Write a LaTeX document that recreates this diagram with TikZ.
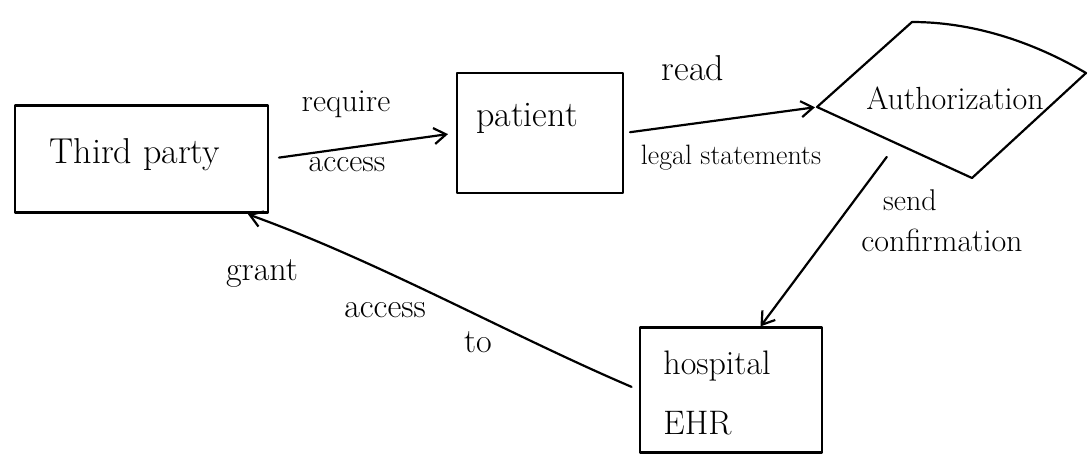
\documentclass[tikz,border=0pt]{standalone}
\usepackage{fontspec}
\setmainfont{Latin Modern Roman}
\usetikzlibrary{arrows.meta,calc}
\begin{document}
\begin{tikzpicture}[x=1pt,y=-1pt,
  ink/.style={line width=2.2pt,line cap=round,line join=round},
  boxnode/.style={ink,draw,rectangle,inner sep=0pt},
  lbl/.style={font=\fontsize{30}{34}\selectfont,inner sep=0pt},
  conn/.style={ink,-{Straight Barb[length=12pt,width=16pt,line width=2.2pt]}}]
\useasboundingbox (0,0) rectangle (1091,465);
% boxes
\node[boxnode,minimum width=253pt,minimum height=107pt] (tp) at (141.5,159) {};
\node[lbl,font=\fontsize{36}{40}\selectfont] (tpt) at (135,155) {Third party};
\node[boxnode,minimum width=166pt,minimum height=120pt] (pat) at (540,133) {};
\node[lbl,font=\fontsize{36}{40}\selectfont] (patt) at (527,118) {patient};
\node[boxnode,minimum width=182pt,minimum height=125pt] (hos) at (731,390) {};
\node[lbl,align=left,font=\fontsize{34}{60}\selectfont] (host) at (717,393) {hospital\\EHR};
% authorization diamond
\coordinate (aL) at (817,107);
\coordinate (aT) at (912,22);
\coordinate (aR) at (1086,73);
\coordinate (aB) at (972,178);
\draw[ink] (aL) -- (aT) .. controls (970,22) and (1030,40) .. (aR) -- (aB) -- cycle;
\node[lbl,font=\fontsize{32}{36}\selectfont] (auth) at (955,98) {Authorization};
% connectors
\draw[conn,shorten <=10pt,shorten >=8pt] (tp.east) -- (pat.west);
\node[lbl,font=\fontsize{32}{36}\selectfont] (l1) at (346,104) {require};
\node[lbl,font=\fontsize{32}{36}\selectfont] (l2) at (347,165) {access};
\draw[conn,shorten <=6pt,shorten >=2pt] (pat.east) -- (aL);
\node[lbl,font=\fontsize{36}{40}\selectfont] (l3) at (693,68) {read};
\node[lbl,font=\fontsize{28}{30}\selectfont] (l4) at (731,158) {legal statements};
\coordinate (sc) at ($(aL)!0.45!(aB)+(0,18)$);
\coordinate (hn) at ($(hos.north west)!0.66!(hos.north east)$);
\draw[conn] (sc) -- (hn);
\node[lbl] (l5) at (910,200) {send};
\node[lbl,font=\fontsize{32}{36}\selectfont] (l6) at (942,240) {confirmation};
\coordinate (tb) at ($(tp.south west)!0.91!(tp.south east)$);
\draw[conn,shorten <=8pt,shorten >=2pt] (hos.west) .. controls (510,335) and (380,262) .. (tb);
\node[lbl,font=\fontsize{34}{38}\selectfont] (l7a) at (262,274) {grant};
\node[lbl,font=\fontsize{34}{38}\selectfont] (l7b) at (385,310) {access};
\node[lbl,font=\fontsize{34}{38}\selectfont] (l7c) at (478,342) {to};
\end{tikzpicture}
\end{document}
